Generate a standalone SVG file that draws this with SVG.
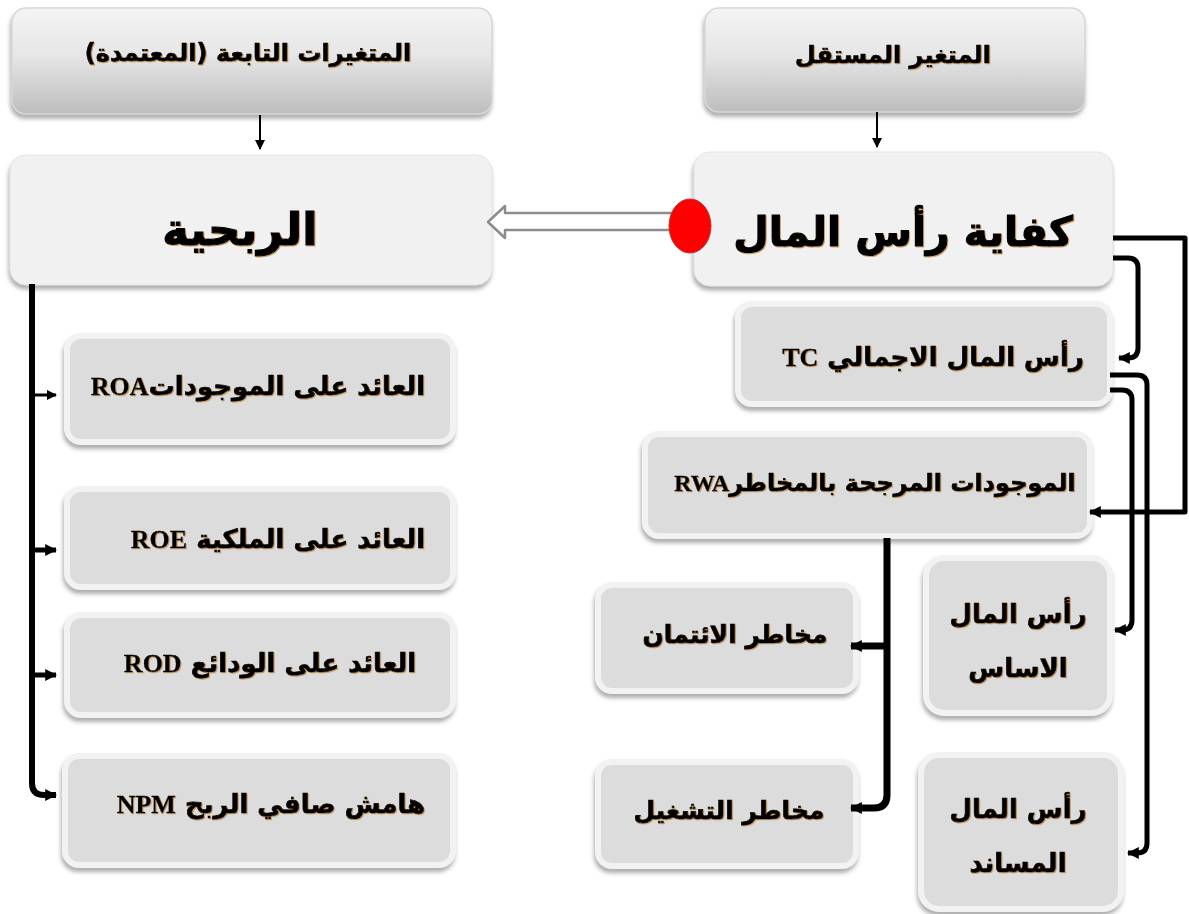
<svg xmlns="http://www.w3.org/2000/svg" width="1189" height="914" viewBox="0 0 1189 914">
<defs>
<linearGradient id="gTop" x1="0" y1="0" x2="0" y2="1">
<stop offset="0" stop-color="#f4f4f4"/>
<stop offset="0.45" stop-color="#e6e6e6"/>
<stop offset="1" stop-color="#bdbdbd"/>
</linearGradient>
<filter id="sh" x="-10%" y="-10%" width="120%" height="130%">
<feDropShadow dx="-1" dy="4" stdDeviation="2" flood-color="#8a8a8a" flood-opacity="0.7"/>
</filter>
<filter id="tsh" x="-5%" y="-20%" width="110%" height="140%">
<feDropShadow dx="1" dy="1" stdDeviation="0.6" flood-color="#b07020" flood-opacity="0.6"/>
</filter>
<marker id="ah" viewBox="0 0 10 10" refX="9" refY="5" markerWidth="12" markerHeight="12" markerUnits="userSpaceOnUse" orient="auto">
<path d="M0 0 L10 5 L0 10 z" fill="#000"/>
</marker>
<marker id="ahs" viewBox="0 0 10 10" refX="9" refY="5" markerWidth="10" markerHeight="10" markerUnits="userSpaceOnUse" orient="auto">
<path d="M0 0 L10 5 L0 10 z" fill="#000"/>
</marker>
</defs>
<style>
.top{fill:url(#gTop);stroke:#d8d8d8;stroke-width:1.5;filter:url(#sh)}
.main{fill:#f1f1f1;stroke:#e4e4e4;stroke-width:1;filter:url(#sh)}
.sub{fill:#dcdcdc;stroke:#f2f2f2;stroke-width:6;filter:url(#sh)}
.ar{font-family:"DejaVu Sans",sans-serif;font-weight:bold;fill:#000;stroke:#000;stroke-width:0.7;text-anchor:middle;filter:url(#tsh)}
.big{stroke-width:1.2}
.lat{font-family:"Liberation Serif",serif;font-weight:bold;stroke-width:0.3}
.c{fill:none;stroke:#000;stroke-width:5;stroke-linejoin:round}
.thin{fill:none;stroke:#000;stroke-width:2}
</style>
<rect width="1189" height="914" fill="#fff"/>

<g id="n-dependent-header">
<rect class="top" x="12" y="8" width="480" height="106" rx="14"/>
<text class="ar" x="248" y="61" font-size="24" direction="rtl">المتغيرات التابعة (المعتمدة)</text>
</g>
<g id="n-independent-header">
<rect class="top" x="705" y="8" width="380" height="104" rx="14"/>
<text class="ar" x="893" y="63" font-size="24" direction="rtl">المتغير المستقل</text>
</g>
<g id="n-profitability">
<rect class="main" x="10" y="155" width="482" height="130" rx="16"/>
<text class="ar big" x="240" y="245" font-size="45" direction="rtl">الربحية</text>
</g>
<g id="n-capital-adequacy">
<rect class="main" x="694" y="152" width="419" height="134" rx="16"/>
<text class="ar big" x="903" y="246" font-size="41" direction="rtl">كفاية رأس المال</text>
</g>
<g id="n-tc">
<rect class="sub" x="738" y="304" width="372" height="100" rx="14"/>
<text class="ar" x="933" y="366" font-size="26" direction="rtl">رأس المال الاجمالي <tspan class="lat">TC</tspan></text>
</g>
<g id="n-rwa">
<rect class="sub" x="645" y="434" width="445" height="102" rx="14"/>
<text class="ar" x="875" y="491" font-size="24" direction="rtl">الموجودات المرجحة بالمخاطر<tspan class="lat">RWA</tspan></text>
</g>
<g id="n-credit-risk">
<rect class="sub" x="598" y="585" width="258" height="106" rx="14"/>
<text class="ar" x="735" y="643" font-size="25" direction="rtl">مخاطر الائتمان</text>
</g>
<g id="n-operational-risk">
<rect class="sub" x="598" y="762" width="258" height="104" rx="14"/>
<text class="ar" x="729" y="819" font-size="25" direction="rtl">مخاطر التشغيل</text>
</g>
<g id="n-core-capital">
<rect class="sub" x="926" y="558" width="184" height="155" rx="18"/>
<text class="ar" x="1018" y="623" font-size="26" direction="rtl">رأس المال</text>
<text class="ar" x="1018" y="677" font-size="26" direction="rtl">الاساس</text>
</g>
<g id="n-supplementary-capital">
<rect class="sub" x="921" y="755" width="200" height="154" rx="18"/>
<text class="ar" x="1018" y="818" font-size="26" direction="rtl">رأس المال</text>
<text class="ar" x="1018" y="872" font-size="26" direction="rtl">المساند</text>
</g>
<g id="n-roa">
<rect class="sub" x="67" y="336" width="386" height="106" rx="14"/>
<text class="ar" x="258" y="395" font-size="26" direction="rtl">العائد على الموجودات<tspan class="lat">ROA</tspan></text>
</g>
<g id="n-roe">
<rect class="sub" x="67" y="489" width="386" height="98" rx="14"/>
<text class="ar" x="278" y="548" font-size="26" direction="rtl">العائد على الملكية <tspan class="lat">ROE</tspan></text>
</g>
<g id="n-rod">
<rect class="sub" x="67" y="615" width="386" height="100" rx="14"/>
<text class="ar" x="270" y="672" font-size="26" direction="rtl">العائد على الودائع <tspan class="lat">ROD</tspan></text>
</g>
<g id="n-npm">
<rect class="sub" x="65" y="756" width="388" height="109" rx="14"/>
<text class="ar" x="271" y="813" font-size="26" direction="rtl">هامش صافي الربح <tspan class="lat">NPM</tspan></text>
</g>

<g id="connectors">
<path class="thin" d="M260 115 V149" marker-end="url(#ahs)"/>
<path class="thin" d="M877 112 V147" marker-end="url(#ahs)"/>
<path class="c" style="stroke-width:6" d="M32 284 V783 Q32 795 44 795 H56" marker-end="url(#ah)"/>
<path class="c" style="stroke-width:3" d="M32 395 H56" marker-end="url(#ahs)"/>
<path class="c" style="stroke-width:5" d="M32 550 H56" marker-end="url(#ah)"/>
<path class="c" style="stroke-width:5" d="M32 675 H56" marker-end="url(#ah)"/>
<path class="c" d="M1113 238 H1185 V512 H1090" marker-end="url(#ah)"/>
<path class="c" d="M1113 258 H1128 Q1138 258 1138 268 V348 Q1138 358 1128 358 H1119" marker-end="url(#ah)"/>
<path class="c" d="M1110 375 H1137 Q1147 375 1147 385 V843 Q1147 853 1137 853 H1128" marker-end="url(#ah)"/>
<path class="c" d="M1110 390 H1122 Q1132 390 1132 400 V620 Q1132 630 1122 630 H1115" marker-end="url(#ah)"/>
<path class="c" style="stroke-width:7" d="M887 538 V795 Q887 808 874 808 H851" marker-end="url(#ah)"/>
<path class="c" style="stroke-width:7" d="M887 646 H851" marker-end="url(#ah)"/>
<polygon points="672,213 505,213 505,206 488,222 505,238 505,230 672,230" fill="#fff" stroke="#8c8c8c" stroke-width="2.5" stroke-linejoin="round"/>
</g>
<g id="dot">
<ellipse cx="690" cy="226" rx="21" ry="27" fill="#ff0000" stroke="#b33" stroke-width="1"/>
</g>
</svg>
